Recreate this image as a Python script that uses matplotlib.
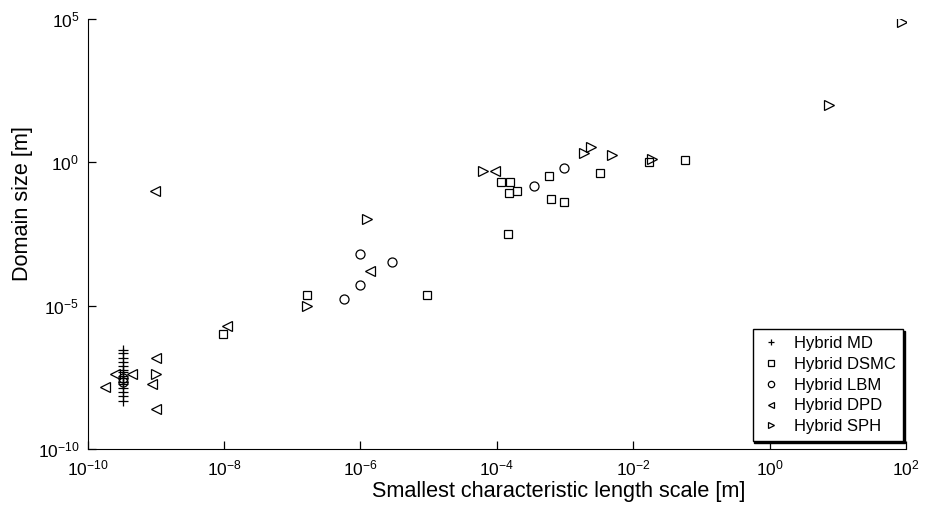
import matplotlib
matplotlib.use('Agg')
import matplotlib.pyplot as plt
import numpy as np

plt.rcParams['font.family'] = ['Liberation Sans', 'DejaVu Sans']
plt.rcParams['mathtext.default'] = 'regular'

# exponents (log10)
md_x = [-9.48] * 15
md_y = [-6.53, -6.64, -6.81, -6.95, -7.09, -7.23, -7.33, -7.44, -7.54,
        -7.65, -7.75, -7.86, -8.0, -8.14, -8.31]

dsmc_x = [-8.01, -6.79, -5.03, -3.94, -3.81, -3.82, -3.71, -3.24, -3.21,
          -3.01, -3.83, -2.48, -1.77, -1.24]
dsmc_y = [-5.99, -4.62, -4.62, -0.69, -0.69, -1.07, -0.99, -0.49, -1.28,
          -1.38, -2.5, -0.38, 0.03, 0.09]

lbm_x = [-9.48, -9.48, -6.0, -5.53, -6.0, -6.24, -3.46, -3.01]
lbm_y = [-7.51, -7.68, -3.2, -3.49, -4.29, -4.77, -0.81, -0.2]

dpd_x = [-9.6, -9.35, -9.74, -9.0, -9.05, -9.0, -9.01, -7.96, -5.86, -4.03]
dpd_y = [-7.37, -7.37, -7.83, -6.82, -7.72, -8.6, -0.99, -5.72, -3.8, -0.285]

sph_x = [-9.0, -6.78, -5.9, -4.2, -2.72, -2.62, -2.31, -1.72, 0.87, 1.95]
sph_y = [-7.37, -5.0, -1.98, -0.285, 0.33, 0.53, 0.26, 0.11, 2.01, 4.9]

series = [
    ('Hybrid MD', md_x, md_y, '+', 7),
    ('Hybrid DSMC', dsmc_x, dsmc_y, 's', 5.5),
    ('Hybrid LBM', lbm_x, lbm_y, 'o', 6.5),
    ('Hybrid DPD', dpd_x, dpd_y, '<', 7),
    ('Hybrid SPH', sph_x, sph_y, '>', 7),
]

fig = plt.figure(figsize=(9.32, 5.05), dpi=100)
ax = fig.add_axes([0.094, 0.111, 0.878, 0.851])

for name, xs, ys, mk, ms in series:
    ax.plot(10.0 ** np.array(xs), 10.0 ** np.array(ys), linestyle='none',
            marker=mk, markersize=ms, markerfacecolor='none',
            markeredgecolor='black', markeredgewidth=0.9, color='black',
            label=name)

ax.set_xscale('log')
ax.set_yscale('log')
ax.set_xlim(1e-10, 1e2)
ax.set_ylim(1e-10, 1e5)

xt = [-10, -8, -6, -4, -2, 0, 2]
yt = [-10, -5, 0, 5]
ax.set_xticks([10.0 ** e for e in xt])
ax.set_xticklabels(['$10^{%d}$' % e for e in xt])
ax.set_yticks([10.0 ** e for e in yt])
ax.set_yticklabels(['$10^{%d}$' % e for e in yt])
ax.minorticks_off()
ax.tick_params(direction='in', length=6, width=0.9, labelsize=12.5)
ax.tick_params(axis='x', pad=7)
ax.tick_params(axis='y', pad=6)

ax.spines['top'].set_visible(False)
ax.spines['right'].set_visible(False)

# labels sit a bit off-centre in the original
ax.set_xlabel('Smallest characteristic length scale [m]', fontsize=15.6,
              labelpad=2, x=0.576)
ax.set_ylabel('Domain size [m]', fontsize=15.6, labelpad=3, y=0.57)

leg = ax.legend(loc='lower right', bbox_to_anchor=(0.9963, 0.0186),
                borderaxespad=0, fontsize=12, frameon=True, fancybox=False,
                shadow={'color': 'black', 'alpha': 1.0, 'ox': 1.2, 'oy': -1.2},
                markerscale=0.7, handlelength=1.4, borderpad=0.4,
                labelspacing=0.35, handletextpad=0.7)
leg.get_frame().set_edgecolor('black')
leg.get_frame().set_linewidth(1.0)

fig.savefig('out.png', dpi=100)
